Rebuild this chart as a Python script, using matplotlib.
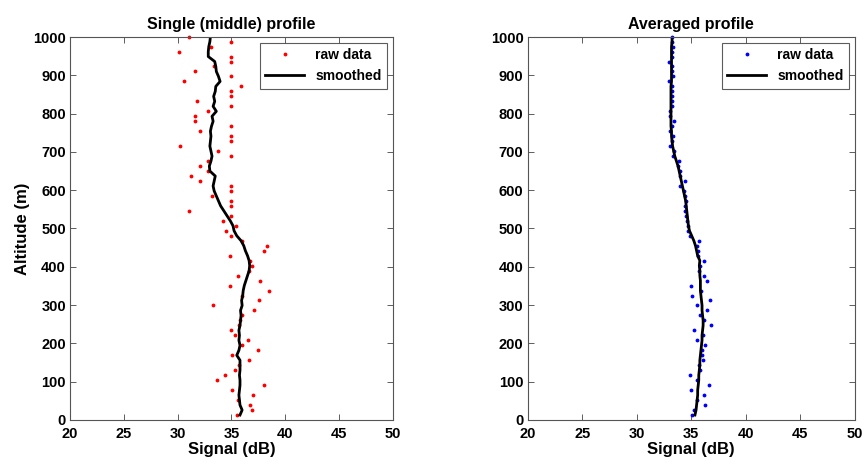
import numpy as np
import matplotlib
matplotlib.use('Agg')
import matplotlib.pyplot as plt

plt.rcParams['font.family'] = ['Liberation Sans', 'DejaVu Sans']
plt.rcParams['font.weight'] = 'bold'

# Range gates (m), 13 m apart
altitude = np.arange(1, 78) * 13.0

# Single (middle) profile: raw samples and smoothed curve (dB)
single_raw = [35.5, 36.9, 36.7, 35.6, 37.0, 35.1, 38.0, 33.7, 34.4, 35.3,
              35.7, 36.6, 35.1, 37.5, 36.0, 36.5, 35.3, 35.0, 35.7, 35.8,
              36.0, 37.1, 33.3, 37.6, 36.0, 38.5, 34.9, 37.7, 35.6, 36.6,
              36.9, 36.7, 34.9, 38.0, 38.3, 36.0, 35.0, 34.5, 35.4, 34.2,
              35.0, 31.1, 35.0, 35.0, 33.2, 35.0, 35.0, 32.1, 31.2, 32.8,
              32.1, 32.8, 35.0, 33.8, 30.2, 35.0, 35.0, 32.1, 35.0, 31.6,
              31.6, 32.8, 35.0, 31.8, 35.0, 35.0, 35.9, 30.6, 35.0, 31.6,
              33.4, 35.0, 35.0, 30.1, 33.1, 35.0, 31.1]
single_smooth = [35.8, 36.0, 35.8, 35.75, 35.7, 35.75, 35.8, 35.8, 35.75, 35.8,
                 35.8, 35.8, 35.5, 35.7, 35.8, 35.7, 35.75, 35.7, 35.8, 35.85,
                 35.9, 35.85, 36.0, 35.95, 36.05, 36.1, 36.2, 36.35, 36.5, 36.65,
                 36.7, 36.65, 36.5, 36.3, 36.15, 35.9, 35.5, 35.25, 35.15, 34.9,
                 34.6, 34.3, 34.0, 33.8, 33.6, 33.4, 33.3, 33.4, 33.5, 33.0,
                 32.95, 33.1, 33.2, 33.1, 33.0, 33.05, 33.1, 33.05, 33.15, 33.3,
                 33.2, 33.6, 33.3, 33.45, 33.35, 33.5, 33.55, 33.95, 33.8, 33.6,
                 33.55, 33.45, 32.85, 32.85, 32.9, 33.0, 33.05]

# Averaged profile: raw samples and smoothed curve (dB)
avg_raw = [35.1, 35.3, 36.3, 35.5, 36.2, 35.0, 36.6, 35.5, 34.9, 35.8,
           35.7, 36.1, 36.0, 36.0, 36.3, 35.5, 36.1, 35.3, 36.8, 36.15,
           35.85, 36.5, 35.5, 36.7, 35.1, 35.9, 35.0, 36.5, 36.2, 35.7,
           35.8, 36.2, 35.6, 35.6, 35.5, 35.7, 34.9, 34.7, 34.7, 34.6,
           34.5, 34.4, 34.4, 34.5, 34.45, 34.3, 34.0, 34.45, 34.0, 34.0,
           33.8, 33.85, 33.3, 33.4, 33.1, 33.2, 33.3, 33.05, 33.2, 33.4,
           33.05, 33.05, 33.2, 33.2, 33.2, 33.2, 33.2, 33.0, 33.3, 33.2,
           33.2, 33.0, 33.2, 33.25, 33.3, 33.25, 33.2]
avg_smooth = [35.35, 35.45, 35.5, 35.55, 35.6, 35.6, 35.65, 35.7, 35.7, 35.75,
              35.8, 35.8, 35.85, 35.9, 35.95, 36.0, 36.0, 36.05, 36.1, 36.1,
              36.05, 36.0, 36.0, 35.95, 35.9, 35.85, 35.85, 35.85, 35.8, 35.8,
              35.75, 35.8, 35.6, 35.5, 35.4, 35.25, 35.05, 34.85, 34.75, 34.7,
              34.65, 34.6, 34.55, 34.5, 34.4, 34.3, 34.2, 34.1, 34.0, 33.9,
              33.8, 33.65, 33.5, 33.4, 33.3, 33.25, 33.2, 33.2, 33.15, 33.15,
              33.15, 33.15, 33.15, 33.15, 33.15, 33.15, 33.15, 33.2, 33.2, 33.2,
              33.2, 33.2, 33.2, 33.2, 33.2, 33.25, 33.25]

fig = plt.figure(figsize=(8.65, 4.69), dpi=100)
ax1 = fig.add_axes([0.081, 0.1045, 0.373, 0.8166])
ax2 = fig.add_axes([0.610, 0.1045, 0.378, 0.8166])

panels = [(ax1, single_raw, single_smooth, 'red', 'Single (middle) profile'),
          (ax2, avg_raw, avg_smooth, 'blue', 'Averaged profile')]

for ax, raw, smooth, col, title in panels:
    ax.plot(raw, altitude, '.', color=col, markersize=3.5, label='raw data', clip_on=False)
    ax.plot(smooth, altitude, '-', color='black', linewidth=2, label='smoothed')
    ax.set_xlim(20, 50)
    ax.set_ylim(0, 1000)
    ax.set_xticks(np.arange(20, 51, 5))
    ax.set_yticks(np.arange(0, 1001, 100))
    ax.tick_params(direction='in', top=True, right=True, length=4, width=0.6,
                   labelsize=10.5, color='#444444')
    ax.tick_params(axis='x', pad=5)
    ax.tick_params(axis='y', pad=3)
    for lab in ax.get_xticklabels() + ax.get_yticklabels():
        lab.set_fontweight('bold')
    for sp in ax.spines.values():
        sp.set_color('#555555')
        sp.set_linewidth(0.8)
    ax.set_title(title, fontsize=11.5, fontweight='bold', pad=6)
    ax.set_xlabel('Signal (dB)', fontsize=12, fontweight='bold', labelpad=1)
    leg = ax.legend(loc='upper right', fontsize=10, frameon=True, fancybox=False,
                    borderpad=0.4, handlelength=2.8, markerscale=1.0,
                    borderaxespad=0.4, edgecolor='#333333')
    leg.get_frame().set_linewidth(0.8)
    for t in leg.get_texts():
        t.set_fontweight('bold')

ax1.set_ylabel('Altitude (m)', fontsize=12, fontweight='bold', labelpad=2)

fig.savefig('out.png', dpi=100)
